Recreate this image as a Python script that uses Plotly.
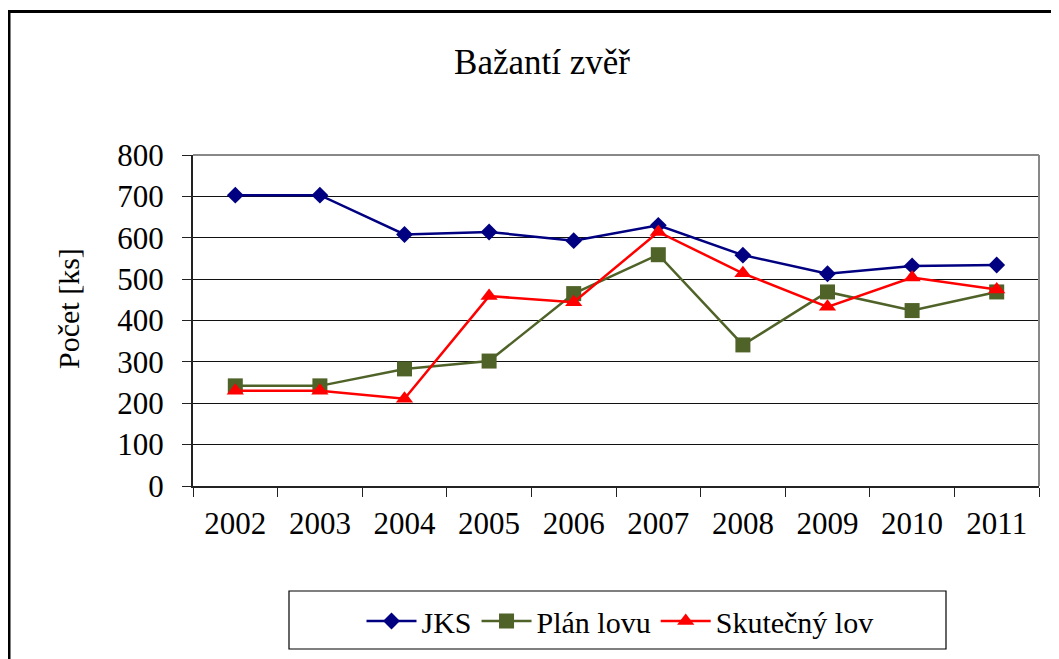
import plotly.graph_objects as go

years = ["2002", "2003", "2004", "2005", "2006", "2007", "2008", "2009", "2010", "2011"]
jks = [703, 703, 608, 614, 593, 630, 558, 513, 532, 534]
plan_lovu = [242, 242, 283, 302, 465, 559, 341, 469, 424, 469]
skutecny_lov = [230, 230, 211, 459, 444, 614, 514, 433, 504, 475]

FONT = "Times New Roman, Liberation Serif, DejaVu Serif, serif"

fig = go.Figure()
fig.add_trace(go.Scatter(x=years, y=jks, name="JKS", mode="lines+markers",
                         line=dict(color="#000080", width=2.5),
                         marker=dict(symbol="diamond", size=13, color="#000080")))
fig.add_trace(go.Scatter(x=years, y=plan_lovu, name="Plán lovu", mode="lines+markers",
                         line=dict(color="#4F6228", width=2.5),
                         marker=dict(symbol="square", size=15, color="#4F6228")))
fig.add_trace(go.Scatter(x=years, y=skutecny_lov, name="Skutečný lov", mode="lines+markers",
                         line=dict(color="#FF0000", width=2.5),
                         marker=dict(symbol="triangle-up", size=15, color="#FF0000")))

# page body has an 8px offset; work in screenshot coordinates and subtract it
OFF = 8
W, H = 1059 - OFF, 659 - OFF
L, T = 193 - OFF, 155 - OFF
pw, ph = 846, 331
R = W - L - pw
B = H - T - ph

def px(x):
    return (x - OFF - L) / pw

def py(y):
    return (T + ph - (y - OFF)) / ph

fig.update_layout(
    width=W, height=H,
    margin=dict(l=L, r=R, t=T, b=B),
    paper_bgcolor="white", plot_bgcolor="white",
    font=dict(family=FONT, color="black"),
    title=dict(text="Bažantí zvěř", font=dict(family=FONT, size=35, color="black"),
               xref="paper", x=px(542), xanchor="center",
               yref="container", y=1 - (62 - OFF) / H, yanchor="middle"),
    showlegend=True,
    legend=dict(orientation="h", x=px(620), xanchor="center", y=py(595), yanchor="top",
                borderwidth=0, font=dict(family=FONT, size=30),
                bgcolor="rgba(0,0,0,0)", itemwidth=50),
    xaxis=dict(type="category", range=[-0.5, 9.5], tickson="boundaries", ticks="outside",
               ticklen=9, tickcolor="#222", showline=True, linecolor="#222", linewidth=2,
               showgrid=False, tickfont=dict(family=FONT, size=31, color="black"),
               ticklabelstandoff=9),
    yaxis=dict(range=[0, 800], dtick=100, ticks="outside", ticklen=9, tickcolor="#222",
               showline=True, linecolor="#222", linewidth=2,
               showgrid=True, gridcolor="#111", gridwidth=1.3,
               tickfont=dict(family=FONT, size=31, color="black"),
               ticklabelstandoff=12, zeroline=False),
    annotations=[dict(text="Počet [ks]", xref="paper", yref="paper", x=px(68), y=py(309),
                      xanchor="center", yanchor="middle", textangle=-90, showarrow=False,
                      font=dict(family=FONT, size=30, color="black"))],
    shapes=[
        dict(type="line", xref="paper", yref="paper", x0=0, x1=1, y0=1, y1=1,
             line=dict(color="#888", width=2)),
        dict(type="line", xref="paper", yref="paper", x0=1, x1=1, y0=0, y1=1,
             line=dict(color="#888", width=2)),
        dict(type="rect", xref="paper", yref="paper", x0=px(289), x1=px(946),
             y0=py(649), y1=py(591), line=dict(color="black", width=1.2)),
        dict(type="rect", xref="paper", yref="paper", x0=px(9), x1=px(1080),
             y0=py(700), y1=py(11.5), line=dict(color="black", width=3)),
    ],
)

fig.write_html("out.html")
